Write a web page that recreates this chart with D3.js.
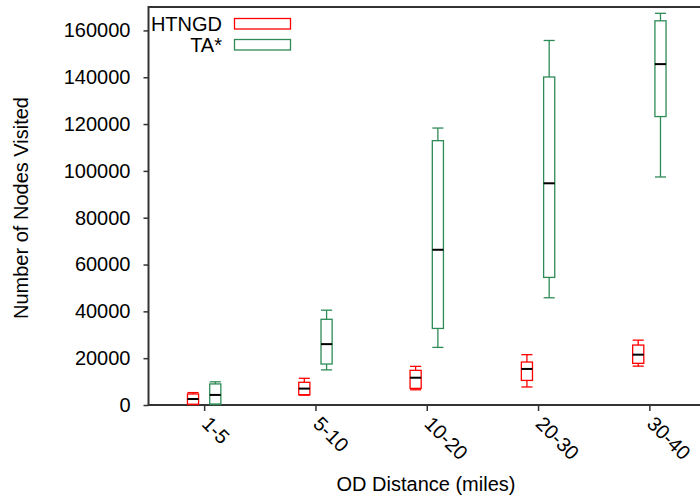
<!DOCTYPE html>
<html>
<head>
<meta charset="utf-8">
<script src="https://cdn.jsdelivr.net/npm/d3@7"></script>
<style>
  html, body { margin: 0; padding: 0; background: #fff; }
  svg { display: block; }
  text { font-family: "Liberation Sans", Arial, Helvetica, sans-serif; fill: #000; }
</style>
</head>
<body>
<svg id="chart" width="700" height="499"></svg>
<script>
const categories = ["1-5", "5-10", "10-20", "20-30", "30-40"];
const seriesNames = ["HTNGD", "TA*"];
const seriesColors = ["#ff0000", "#2e8b57"];

const htngdMin    = [200, 4200, 6500, 7700, 16600];
const htngdQ1     = [300, 4400, 7100, 10500, 17800];
const htngdMedian = [2560, 7000, 11650, 15400, 21500];
const htngdQ3     = [4700, 9700, 14800, 18350, 25600];
const htngdMax    = [5300, 11400, 16500, 21500, 27700];

const taMin    = [200, 15000, 24600, 45800, 97400];
const taQ1     = [400, 17500, 32700, 54500, 123200];
const taMedian = [4300, 26000, 66300, 94700, 145600];
const taQ3     = [9000, 36600, 112900, 140100, 164100];
const taMax    = [9900, 40500, 118300, 155700, 167300];

const yTicks = [0, 20000, 40000, 60000, 80000, 100000, 120000, 140000, 160000];

const svg = d3.select("#chart");
const mLeft = 148.5, mRight = 705, mTop = 7, mBottom = 405;

const x = d3.scaleLinear().domain([0.5, 5.5]).range([mLeft, mRight]);
const y = d3.scaleLinear().domain([0, 170000]).range([mBottom, mTop]);

const axisColor = "#333";

// Y axis
const yAxis = d3.axisLeft(y).tickValues(yTicks).tickSize(5).tickPadding(13).tickFormat(d3.format("d"));
const gy = svg.append("g").attr("transform", `translate(${mLeft},0)`).call(yAxis);
gy.select(".domain").remove();
gy.selectAll(".tick line").attr("stroke", axisColor).attr("stroke-width", 1.5);
gy.selectAll(".tick text").style("font-size", "20px").style("font-family", "Liberation Sans, Arial, sans-serif").attr("fill", "#000");

// X axis
const xAxis = d3.axisBottom(x).tickValues(d3.range(1, categories.length + 1)).tickSize(6).tickFormat((d) => categories[d - 1]);
const gx = svg.append("g").attr("transform", `translate(0,${mBottom})`).call(xAxis);
gx.select(".domain").remove();
gx.selectAll(".tick line").attr("stroke", axisColor).attr("stroke-width", 1.5);
gx.selectAll(".tick text")
  .style("font-size", "20px").style("font-family", "Liberation Sans, Arial, sans-serif")
  .attr("fill", "#000")
  .attr("text-anchor", "start")
  .attr("dy", null)
  .attr("y", null)
  .attr("transform", "translate(-4,20) rotate(45)");

// Border
svg.append("rect")
  .attr("x", mLeft).attr("y", mTop)
  .attr("width", mRight - mLeft).attr("height", mBottom - mTop)
  .attr("fill", "none").attr("stroke", axisColor).attr("stroke-width", 2);

// Boxes
const series = [
  { name: seriesNames[0], color: seriesColors[0], offset: -0.1, min: htngdMin, q1: htngdQ1, med: htngdMedian, q3: htngdQ3, max: htngdMax },
  { name: seriesNames[1], color: seriesColors[1], offset: 0.1, min: taMin, q1: taQ1, med: taMedian, q3: taQ3, max: taMax }
];
const halfW = 0.05;

series.forEach((s) => {
  const g = svg.append("g");
  categories.forEach((c, i) => {
    const cx = i + 1 + s.offset;
    const x0 = x(cx - halfW), x1 = x(cx + halfW), xc = x(cx);
    g.append("line").attr("x1", xc).attr("x2", xc).attr("y1", y(s.q3[i])).attr("y2", y(s.max[i]))
      .attr("stroke", s.color).attr("stroke-width", 1.3);
    g.append("line").attr("x1", xc).attr("x2", xc).attr("y1", y(s.q1[i])).attr("y2", y(s.min[i]))
      .attr("stroke", s.color).attr("stroke-width", 1.3);
    g.append("line").attr("x1", x0).attr("x2", x1).attr("y1", y(s.max[i])).attr("y2", y(s.max[i]))
      .attr("stroke", s.color).attr("stroke-width", 1.3);
    g.append("line").attr("x1", x0).attr("x2", x1).attr("y1", y(s.min[i])).attr("y2", y(s.min[i]))
      .attr("stroke", s.color).attr("stroke-width", 1.3);
    g.append("rect").attr("x", x0).attr("y", y(s.q3[i]))
      .attr("width", x1 - x0).attr("height", y(s.q1[i]) - y(s.q3[i]))
      .attr("fill", "none").attr("stroke", s.color).attr("stroke-width", 1.3);
    g.append("line").attr("x1", x0).attr("x2", x1).attr("y1", y(s.med[i])).attr("y2", y(s.med[i]))
      .attr("stroke", "#000").attr("stroke-width", 2);
  });
});

// Legend
const legend = svg.append("g");
series.forEach((s, i) => {
  const by = 31 + i * 21;
  legend.append("text").attr("x", 222).attr("y", by).attr("text-anchor", "end")
    .style("font-size", "20px").text(s.name);
  legend.append("rect").attr("x", 234.5).attr("y", by - 12.5).attr("width", 56).attr("height", 10.5)
    .attr("fill", "none").attr("stroke", s.color).attr("stroke-width", 1.3);
});

// Axis titles
svg.append("text").attr("x", 426).attr("y", 491).attr("text-anchor", "middle")
  .style("font-size", "20px").text("OD Distance (miles)");
svg.append("text").attr("transform", "translate(28,208) rotate(-90)").attr("text-anchor", "middle")
  .style("font-size", "20px").text("Number of Nodes Visited");
</script>
</body>
</html>
